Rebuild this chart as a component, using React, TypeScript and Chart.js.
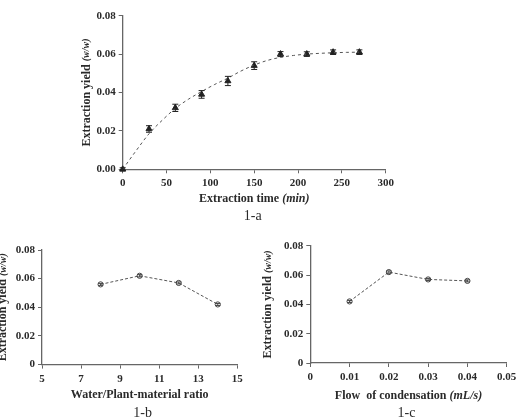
import React, { useEffect, useRef } from "react";
import { Chart, registerables } from "chart.js";
Chart.register(...registerables);

// ---- data (1-a) ----
const timeMin = [0, 30, 60, 90, 120, 150, 180, 210, 240, 270];
const yieldTime = [0, 0.021, 0.032, 0.039, 0.046, 0.054, 0.06, 0.06, 0.061, 0.061];
const errTime = [0.0008, 0.0017, 0.0019, 0.002, 0.0024, 0.002, 0.0013, 0.0012, 0.0012, 0.0012];
const fitTime = [0, 15, 30, 45, 60, 75, 90, 105, 120, 135, 150, 165, 180, 195, 210, 225, 240, 255, 270];
const fitYield = [0, 0.0095, 0.0185, 0.0255, 0.0317, 0.0365, 0.0405, 0.0442, 0.0475, 0.0512, 0.0543, 0.0567, 0.0583, 0.0593, 0.06, 0.0604, 0.0607, 0.0609, 0.061];
const xTicksA = [0, 50, 100, 150, 200, 250, 300];
const xLabelsA = ["0", "50", "100", "150", "200", "250", "300"];
const yTicks = [0, 0.02, 0.04, 0.06, 0.08];
const yLabelsA = ["0.00", "0.02", "0.04", "0.06", "0.08"];

// ---- data (1-b) ----
const ratio = [8, 10, 12, 14];
const yieldRatio = [0.056, 0.062, 0.057, 0.042];
const errRatio = [0.0007, 0.0008, 0.0007, 0.0007];
const xTicksB = [5, 7, 9, 11, 13, 15];
const xLabelsB = ["5", "7", "9", "11", "13", "15"];
const yLabelsBC = ["0", "0.02", "0.04", "0.06", "0.08"];

// ---- data (1-c) ----
const flow = [0.01, 0.02, 0.03, 0.04];
const yieldFlow = [0.042, 0.062, 0.057, 0.056];
const errFlow = [0.0007, 0.0008, 0.0007, 0.0007];
const xTicksC = [0, 0.01, 0.02, 0.03, 0.04, 0.05];
const xLabelsC = ["0", "0.01", "0.02", "0.03", "0.04", "0.05"];

const SERIF = "'Liberation Serif', 'DejaVu Serif', serif";
const AXIS = "#666";
const TEXT = "#2a2a2a";
const LINE = "#555";

function axis(min: number, max: number, vals: number[], labels: string[], size: number, isY: boolean, pad: number) {
  return {
    type: "linear",
    min,
    max,
    afterBuildTicks: (s: any) => {
      s.ticks = vals.map((v) => ({ value: v }));
    },
    afterFit: (s: any) => {
      if (isY) s.width = size;
      else s.height = size;
    },
    grid: { display: true, drawOnChartArea: false, drawTicks: true, tickLength: 4, color: AXIS, lineWidth: 1 },
    border: { display: true, color: AXIS, width: 1.3 },
    ticks: {
      color: TEXT,
      font: { family: SERIF, size: 11, weight: "bold" },
      padding: pad,
      autoSkip: false,
      maxRotation: 0,
      callback: (_v: any, i: number) => labels[i],
    },
  };
}

type Part = [string, string];
function drawMixed(ctx: CanvasRenderingContext2D, parts: Part[], cx: number, cy: number, rotate: boolean) {
  ctx.save();
  ctx.translate(cx, cy);
  if (rotate) ctx.rotate(-Math.PI / 2);
  const widths = parts.map((p) => {
    ctx.font = p[1];
    return ctx.measureText(p[0]).width;
  });
  const total = widths.reduce((a, b) => a + b, 0);
  let x = -total / 2;
  ctx.textBaseline = "middle";
  ctx.textAlign = "left";
  ctx.fillStyle = TEXT;
  parts.forEach((p, i) => {
    ctx.font = p[1];
    ctx.fillText(p[0], x, 0);
    x += widths[i];
  });
  ctx.restore();
}

const B12 = `bold 12px ${SERIF}`;
const BI12 = `italic bold 12px ${SERIF}`;
const BI10 = `italic bold 10px ${SERIF}`;
const R14 = `14px ${SERIF}`;

function makePlugin(opts: {
  xTitle: Part[];
  xTitleY: number;
  yTitleX: number;
  caption: string;
  captionY: number;
  captionDx: number;
  capW: number;
}) {
  return {
    id: "decor",
    afterDatasetsDraw(chart: any) {
      const ctx = chart.ctx as CanvasRenderingContext2D;
      const xs = chart.scales.x;
      const ys = chart.scales.y;
      chart.data.datasets.forEach((ds: any) => {
        if (!ds.errors) return;
        ctx.save();
        ctx.strokeStyle = ds.errColor || "#333";
        ctx.lineWidth = 1;
        ds.data.forEach((pt: any, i: number) => {
          const e = ds.errors[i];
          const px = xs.getPixelForValue(pt.x);
          const top = ys.getPixelForValue(pt.y + e);
          const bot = ys.getPixelForValue(pt.y - e);
          ctx.beginPath();
          ctx.moveTo(px, top);
          ctx.lineTo(px, bot);
          ctx.moveTo(px - opts.capW, top);
          ctx.lineTo(px + opts.capW, top);
          ctx.moveTo(px - opts.capW, bot);
          ctx.lineTo(px + opts.capW, bot);
          ctx.stroke();
        });
        ctx.restore();
      });
    },
    afterDraw(chart: any) {
      const ctx = chart.ctx as CanvasRenderingContext2D;
      const ca = chart.chartArea;
      const cx = (ca.left + ca.right) / 2;
      const cy = (ca.top + ca.bottom) / 2;
      drawMixed(ctx, [["Extraction yield ", B12], ["(w/w)", BI10]], opts.yTitleX, cy, true);
      drawMixed(ctx, opts.xTitle, cx, opts.xTitleY, false);
      drawMixed(ctx, [[opts.caption, R14]], cx + opts.captionDx, opts.captionY, false);
    },
  };
}

function baseOptions(pad: any, scales: any) {
  return {
    responsive: false,
    animation: false,
    events: [],
    layout: { autoPadding: false, padding: pad },
    plugins: { legend: { display: false }, tooltip: { enabled: false } },
    scales,
  };
}

function useChart(ref: React.RefObject<HTMLCanvasElement>, build: () => any) {
  useEffect(() => {
    if (!ref.current) return;
    const c = new Chart(ref.current, build());
    return () => c.destroy();
  }, []);
}

export default function App() {
  const refA = useRef<HTMLCanvasElement>(null);
  const refB = useRef<HTMLCanvasElement>(null);
  const refC = useRef<HTMLCanvasElement>(null);

  useChart(refA, () => ({
    type: "scatter",
    data: {
      datasets: [
        {
          type: "line",
          data: fitTime.map((x, i) => ({ x, y: fitYield[i] })),
          borderColor: LINE,
          borderWidth: 1,
          borderDash: [3, 3],
          pointRadius: 0,
          tension: 0.4,
          cubicInterpolationMode: "monotone",
          fill: false,
          clip: false,
        },
        {
          data: timeMin.map((x, i) => ({ x, y: yieldTime[i] })),
          pointStyle: "triangle",
          pointRadius: 3.5,
          backgroundColor: "#222",
          borderColor: "#222",
          borderWidth: 1,
          clip: false,
          errors: errTime,
          errColor: "#222",
        },
      ],
    },
    options: baseOptions(
      { left: 0, top: 15.7, right: 136.3, bottom: 0 },
      {
        x: axis(0, 300, xTicksA, xLabelsA, 60.7, false, 3),
        y: axis(0, 0.08, yTicks, yLabelsA, 122.7, true, 3),
      }
    ),
    plugins: [
      makePlugin({
        xTitle: [["Extraction time ", B12], ["(min)", BI12]],
        xTitleY: 199,
        yTitleX: 86.7,
        caption: "1-a",
        captionY: 216,
        captionDx: -1.5,
        capW: 3,
      }),
    ],
  }));

  useChart(refB, () => ({
    type: "scatter",
    data: {
      datasets: [
        {
          type: "line",
          data: ratio.map((x, i) => ({ x, y: yieldRatio[i] })),
          borderColor: LINE,
          borderWidth: 1,
          borderDash: [3, 2],
          tension: 0,
          fill: false,
          pointStyle: "circle",
          pointRadius: 2.6,
          pointBorderColor: "#444",
          pointBackgroundColor: "rgba(255,255,255,0)",
          pointBorderWidth: 1,
          clip: false,
          errors: errRatio,
          errColor: "#444",
        },
      ],
    },
    options: baseOptions(
      { left: 0, top: 20, right: 22.7, bottom: 0 },
      {
        x: axis(5, 15, xTicksB, xLabelsB, 54.4, false, 4),
        y: axis(0, 0.08, yTicks, yLabelsBC, 42, true, 3),
      }
    ),
    plugins: [
      makePlugin({
        xTitle: [["Water/Plant-material ratio", B12]],
        xTitleY: 165,
        yTitleX: 3,
        caption: "1-b",
        captionY: 183,
        captionDx: 3,
        capW: 2.5,
      }),
    ],
  }));

  useChart(refC, () => ({
    type: "scatter",
    data: {
      datasets: [
        {
          type: "line",
          data: flow.map((x, i) => ({ x, y: yieldFlow[i] })),
          borderColor: LINE,
          borderWidth: 1,
          borderDash: [3, 2],
          tension: 0,
          fill: false,
          pointStyle: "circle",
          pointRadius: 2.6,
          pointBorderColor: "#444",
          pointBackgroundColor: "rgba(255,255,255,0)",
          pointBorderWidth: 1,
          clip: false,
          errors: errFlow,
          errColor: "#444",
        },
      ],
    },
    options: baseOptions(
      { left: 0, top: 15.7, right: 15.3, bottom: 0 },
      {
        x: axis(0, 0.05, xTicksC, xLabelsC, 56, false, 4),
        y: axis(0, 0.08, yTicks, yLabelsBC, 50.3, true, 3),
      }
    ),
    plugins: [
      makePlugin({
        xTitle: [["Flow  of condensation ", B12], ["(mL/s)", BI12]],
        xTitleY: 165.7,
        yTitleX: 8,
        caption: "1-c",
        captionY: 183,
        captionDx: -2,
        capW: 2.5,
      }),
    ],
  }));

  return (
    <div style={{ position: "absolute", left: 0, top: 0, width: 522, height: 419, background: "#fff", overflow: "hidden" }}>
      <canvas ref={refA} width={522} height={230} style={{ position: "absolute", left: 0, top: 0 }} />
      <canvas ref={refB} width={260} height={189} style={{ position: "absolute", left: 0, top: 230 }} />
      <canvas ref={refC} width={262} height={189} style={{ position: "absolute", left: 260, top: 230 }} />
    </div>
  );
}
